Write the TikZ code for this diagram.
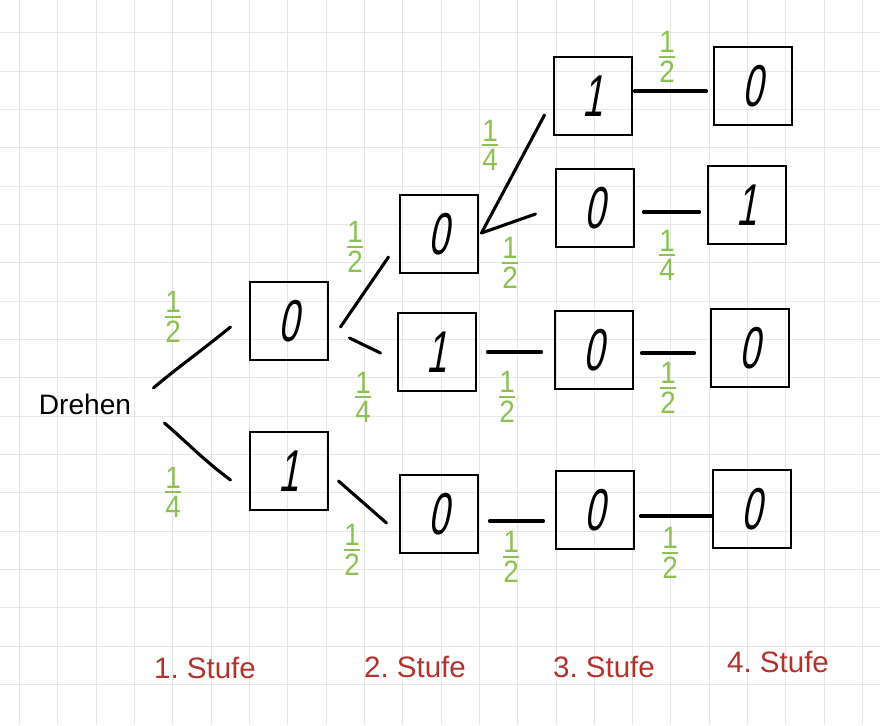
\documentclass[tikz,border=0pt]{standalone}
\usepackage{amsmath}
\usepackage{fontspec}
\setmainfont{Liberation Sans}
\newfontfamily\handfont[FakeSlant=0.18,FakeStretch=0.62]{Liberation Sans}
\newfontfamily\fracfont[FakeStretch=0.9]{Liberation Sans}
\definecolor{gridgray}{HTML}{E6E6E6}
\definecolor{probgreen}{HTML}{8CC152}
\definecolor{stufered}{HTML}{B3322C}
\newcommand{\prob}[2]{$\genfrac{}{}{1.8pt}{1}{\hbox{\fracfont #1}}{\hbox{\fracfont #2}}$}
\frenchspacing

\begin{document}
\begin{tikzpicture}[x=0.025cm, y=-0.025cm,
    gridline/.style={draw=gridgray, line width=0.6pt},
    digitbox/.style={draw, line width=2.1pt, minimum size=1.95cm, inner sep=0pt,
        font=\fontsize{42}{42}\selectfont\handfont},
    branch/.style={line width=2.2pt, line cap=round},
    problabel/.style={text=probgreen, inner sep=0pt, font=\fontsize{22}{22}\selectfont},
    stufe/.style={text=stufered, font=\fontsize{21}{21}\selectfont}]

    % Paper with grid
    \fill[white] (0,0) rectangle (880,725);
    \useasboundingbox (0,0) rectangle (880,725);
    \foreach \k in {0,...,22}
        \draw[gridline] ({19.3+38.33*\k},0) -- ({19.3+38.33*\k},725);
    \foreach \k in {0,...,17}
        \draw[gridline] (0,{32.7+38.33*\k}) -- (880,{32.7+38.33*\k});

    % Start
    \node[inner sep=0pt, font=\fontsize{20}{20}\selectfont] (dr) at (85,404) {Drehen};

    % Draw the boxes, stage by stage
    \node[digitbox] (a0) at (289,321) {0};
    \node[digitbox] (a1) at (289,471) {1};

    \node[digitbox] (b0) at (439,234) {0};
    \node[digitbox] (b1) at (437,352) {1};
    \node[digitbox] (b2) at (439,514) {0};

    \node[digitbox] (c0) at (593,96) {1};
    \node[digitbox] (c1) at (595,208) {0};
    \node[digitbox] (c2) at (594,350) {0};
    \node[digitbox] (c3) at (595,510) {0};

    \node[digitbox] (d0) at (753,86) {0};
    \node[digitbox] (d1) at (747,205) {1};
    \node[digitbox] (d2) at (750,348) {0};
    \node[digitbox] (d3) at (752,509) {0};

    % Draw the branches
    \draw[branch] ([shift={(22,-16)}]dr.east) .. controls ([shift={(48,-38)}]dr.east) and ([shift={(-50,32)}]a0.west) .. ([shift={(-18,6)}]a0.west);
    \draw[branch] ([shift={(33,19)}]dr.east) .. controls ([shift={(53,36)}]dr.east) and ([shift={(-45,-11)}]a1.west) .. ([shift={(-18,9)}]a1.west);

    \draw[branch] ([shift={(11,6)}]a0.east) -- ([shift={(-10,23)}]b0.west);
    \draw[branch] ([shift={(20,17)}]a0.east) -- ([shift={(-16,1)}]b1.west);
    \draw[branch] ([shift={(9,10)}]a1.east) -- ([shift={(-12,9)}]b2.west);

    \draw[branch] ([shift={(2,-1)}]b0.east) -- ([shift={(-8,19)}]c0.west);
    \draw[branch] ([shift={(2,-1)}]b0.east) -- ([shift={(-19,6)}]c1.west);
    \draw[branch] ([shift={(10,0)}]b1.east) -- ([shift={(-12,2)}]c2.west);
    \draw[branch] ([shift={(10,7)}]b2.east) -- ([shift={(-11,11)}]c3.west);

    \draw[branch] ([shift={(1,-5)}]c0.east) -- ([shift={(-6,5)}]d0.west);
    \draw[branch] ([shift={(8,4)}]c1.east) -- ([shift={(-7,7)}]d1.west);
    \draw[branch] ([shift={(7,3)}]c2.east) -- ([shift={(-15,5)}]d2.west);
    \draw[branch] ([shift={(5,6)}]c3.east) -- ([shift={(0,7)}]d3.west);

    % Probabilities
    \node[problabel] (p1) at (173,317) {\prob{1}{2}};
    \node[problabel] (p2) at (173,492) {\prob{1}{4}};
    \node[problabel] (p3) at (355,247) {\prob{1}{2}};
    \node[problabel] (p4) at (363,397) {\prob{1}{4}};
    \node[problabel] (p5) at (352,550) {\prob{1}{2}};
    \node[problabel] (p6) at (490,145) {\prob{1}{4}};
    \node[problabel] (p7) at (510,263) {\prob{1}{2}};
    \node[problabel] (p8) at (507,397) {\prob{1}{2}};
    \node[problabel] (p9) at (511,557) {\prob{1}{2}};
    \node[problabel] (p10) at (667,57) {\prob{1}{2}};
    \node[problabel] (p11) at (667,255) {\prob{1}{4}};
    \node[problabel] (p12) at (668,388) {\prob{1}{2}};
    \node[problabel] (p13) at (670,553) {\prob{1}{2}};

    % Stages
    \node[stufe] (s1) at (205,668) {1. Stufe};
    \node[stufe] (s2) at (415,667) {2. Stufe};
    \node[stufe] (s3) at (604,667) {3. Stufe};
    \node[stufe] (s4) at (778,662) {4. Stufe};
\end{tikzpicture}
\end{document}
